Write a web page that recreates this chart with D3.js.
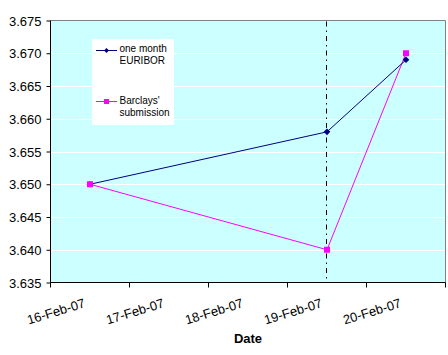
<!DOCTYPE html>
<html><head><meta charset="utf-8">
<script src="https://cdn.jsdelivr.net/npm/d3@7"></script>
<style>body{margin:0;background:#fff}svg{display:block;font-family:"Liberation Sans",Arial,sans-serif}</style>
</head><body>
<svg id="c" width="448" height="355"></svg>
<script>
const dates = ["16-Feb-07","17-Feb-07","18-Feb-07","19-Feb-07","20-Feb-07"];
const euriborDates = ["16-Feb-07","19-Feb-07","20-Feb-07"];
const euriborValues = [3.650, 3.658, 3.669];
const barclaysDates = ["16-Feb-07","19-Feb-07","20-Feb-07"];
const barclaysValues = [3.650, 3.640, 3.670];
const yTicks = [3.635,3.640,3.645,3.650,3.655,3.660,3.665,3.670,3.675];
const markerDate = "19-Feb-07";

const svg = d3.select("#c");
const L=50.5, R=445.5, T=20.5, B=282.5;
const x = d3.scaleBand().domain(dates).range([L,R]);
const cx = d => x(d)+x.bandwidth()/2;
const y = d3.scaleLinear().domain([3.635,3.675]).range([B,T]);

svg.append("rect").attr("x",L).attr("y",T).attr("width",R-L).attr("height",B-T).attr("fill","#CCFFFF");
// gridlines
svg.append("g").selectAll("line").data(yTicks.slice(1,-1)).join("line")
  .attr("x1",L).attr("x2",R).attr("y1",d=>Math.round(y(d))+0.5).attr("y2",d=>Math.round(y(d))+0.5)
  .attr("stroke","#fff").attr("stroke-width",1);
// top/right border
svg.append("path").attr("d",`M${L},${T}H${R}V${B}`).attr("fill","none").attr("stroke","#808080");

// vertical dash-dot line
svg.append("line").attr("x1",Math.round(cx(markerDate))-0.5).attr("x2",Math.round(cx(markerDate))-0.5)
  .attr("y1",T+1).attr("y2",B).attr("stroke","#000").attr("stroke-dasharray","5,4,1.5,4");

// y axis
const yAxis = d3.axisLeft(y).tickValues(yTicks).tickFormat(d3.format(".3f")).tickSize(4).tickPadding(5);
const gy = svg.append("g").attr("transform",`translate(${L},0)`).call(yAxis);
gy.select(".domain").attr("stroke","#000").attr("d",`M0,${T}V${B}`);
gy.selectAll(".tick line").attr("stroke","#000");
gy.selectAll("text").attr("font-size",13).attr("font-family","Liberation Sans, Arial, sans-serif").attr("fill","#000").attr("dy","0.36em");

// x axis line and ticks at boundaries
const bounds = dates.map(d=>x(d)).concat([R]);
svg.append("line").attr("x1",L).attr("x2",R).attr("y1",B).attr("y2",B).attr("stroke","#000");
svg.append("g").selectAll("line").data(bounds).join("line")
  .attr("x1",d=>d).attr("x2",d=>d).attr("y1",B).attr("y2",B+5).attr("stroke","#000");
svg.append("g").selectAll("text").data(dates).join("text")
  .attr("transform",d=>`translate(${cx(d)-4},307) rotate(-17)`)
  .attr("text-anchor","end").attr("font-size",13).attr("fill","#000").text(d=>d);
svg.append("text").attr("x",(L+R)/2).attr("y",343).attr("text-anchor","middle")
  .attr("font-size",13).attr("font-weight","bold").text("Date");

// series
const line = d3.line().x(d=>cx(d[0])).y(d=>y(d[1]));
const eData = euriborDates.map((d,i)=>[d,euriborValues[i]]);
const bData = barclaysDates.map((d,i)=>[d,barclaysValues[i]]);
svg.append("path").datum(bData).attr("d",line).attr("fill","none").attr("stroke","#FF00FF").attr("stroke-width",1);
svg.append("path").datum(eData).attr("d",line).attr("fill","none").attr("stroke","#000080").attr("stroke-width",1);
const diamond = d3.symbol().type(d3.symbolSquare).size(22);
svg.append("g").selectAll("path").data(eData).join("path")
  .attr("transform",d=>`translate(${cx(d[0])},${y(d[1])}) rotate(45)`).attr("d",diamond).attr("fill","#000080");
svg.append("g").selectAll("rect").data(bData).join("rect")
  .attr("x",d=>cx(d[0])-3).attr("y",d=>y(d[1])-3).attr("width",6).attr("height",6).attr("fill","#FF00FF");

// legend
const lg = svg.append("g");
lg.append("rect").attr("x",92).attr("y",39).attr("width",82).attr("height",86).attr("fill","#fff");
const legend = [
  {lines:["one month","EURIBOR"], color:"#000080", type:"diamond", ly:50.5, ty:[52,64]},
  {lines:["Barclays'","submission"], color:"#FF00FF", type:"square", ly:101.5, ty:[104,116]}
];
legend.forEach(e=>{
  lg.append("line").attr("x1",96).attr("x2",117).attr("y1",e.ly).attr("y2",e.ly).attr("stroke",e.color);
  if(e.type==="diamond") lg.append("path").attr("transform",`translate(106.5,${e.ly}) rotate(45)`).attr("d",d3.symbol().type(d3.symbolSquare).size(12)).attr("fill",e.color);
  else lg.append("rect").attr("x",104).attr("y",e.ly-2.5).attr("width",5).attr("height",5).attr("fill",e.color);
  e.lines.forEach((t,i)=>lg.append("text").attr("x",119.5).attr("y",e.ty[i]).attr("font-size",10).attr("fill","#000").text(t));
});
</script>
</body></html>
